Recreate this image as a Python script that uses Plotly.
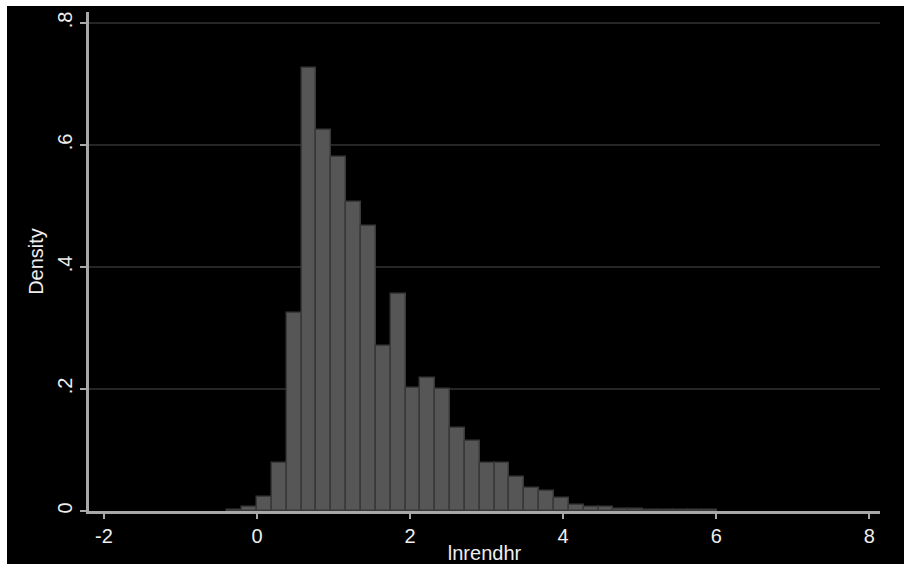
import plotly.graph_objects as go

# Histogram of lnrendhr (density scale)
bin_width = 0.194
first_bin_left = -0.388
density = [0.002, 0.007, 0.023, 0.078, 0.324, 0.726, 0.625, 0.581, 0.506, 0.467,
           0.270, 0.355, 0.201, 0.218, 0.200, 0.136, 0.115, 0.078, 0.079, 0.056,
           0.038, 0.033, 0.021, 0.010, 0.006, 0.007, 0.004, 0.003, 0.002, 0.002,
           0.001, 0.001, 0.001]

x_tickvals = [-2, 0, 2, 4, 6, 8]
x_ticktext = ["-2", "0", "2", "4", "6", "8"]
y_tickvals = [0, 0.2, 0.4, 0.6, 0.8]
y_ticktext = ["0", ".2", ".4", ".6", ".8"]

centers = [first_bin_left + bin_width * (i + 0.5) for i in range(len(density))]

FONT = "Liberation Sans, Arial, sans-serif"
FS = 20

fig = go.Figure()
fig.add_trace(go.Bar(
    x=centers, y=density, width=bin_width,
    marker=dict(color="#565656", line=dict(color="#393939", width=1.5)),
    showlegend=False,
))

W, H = 904, 564
L, R, T, B = 89, 24, 12, 53

fig.update_layout(
    width=W, height=H,
    margin=dict(l=L, r=R, t=T, b=B, pad=0),
    paper_bgcolor="black", plot_bgcolor="black",
    bargap=0,
    font=dict(family=FONT, color="#ececec", size=FS),
    xaxis=dict(
        range=[-2.196, 8.14], tickvals=x_tickvals, ticktext=x_ticktext,
        showgrid=False, zeroline=False,
        showline=True, linecolor="#a8a8a8", linewidth=2.5,
        ticks="outside", ticklen=5, tickwidth=2, tickcolor="#a8a8a8",
        tickfont=dict(size=FS, color="#eeeeee"),
        title=dict(text="lnrendhr", font=dict(size=FS, color="#eeeeee"), standoff=2),
        automargin=False,
    ),
    yaxis=dict(
        range=[0, 0.818], tickvals=y_tickvals, ticktext=y_ticktext,
        showgrid=True, gridcolor="#262626", gridwidth=2,
        zeroline=False,
        showline=True, linecolor="#a8a8a8", linewidth=2.5,
        ticks="outside", ticklen=6, tickwidth=2, tickcolor="#a8a8a8",
        tickangle=-90,
        tickfont=dict(size=FS, color="#eeeeee"),
        title=dict(text="Density", font=dict(size=FS, color="#eeeeee"), standoff=6),
        automargin=False,
    ),
    shapes=[
        # white frame strips at top and left of the picture
        dict(type="rect", xref="paper", yref="paper",
             x0=-0.2, x1=1.2, y0=1 + (T - 6) / (H - T - B), y1=1.1,
             fillcolor="white", line=dict(width=0), layer="above"),
        dict(type="rect", xref="paper", yref="paper",
             x0=-0.2, x1=(7 - L) / (W - L - R), y0=-0.2, y1=1.1,
             fillcolor="white", line=dict(width=0), layer="above"),
    ],
)

fig.write_html(
    "out.html",
    config={"displayModeBar": False},
    post_script="document.body.style.margin='0';document.body.style.overflow='hidden';",
)
